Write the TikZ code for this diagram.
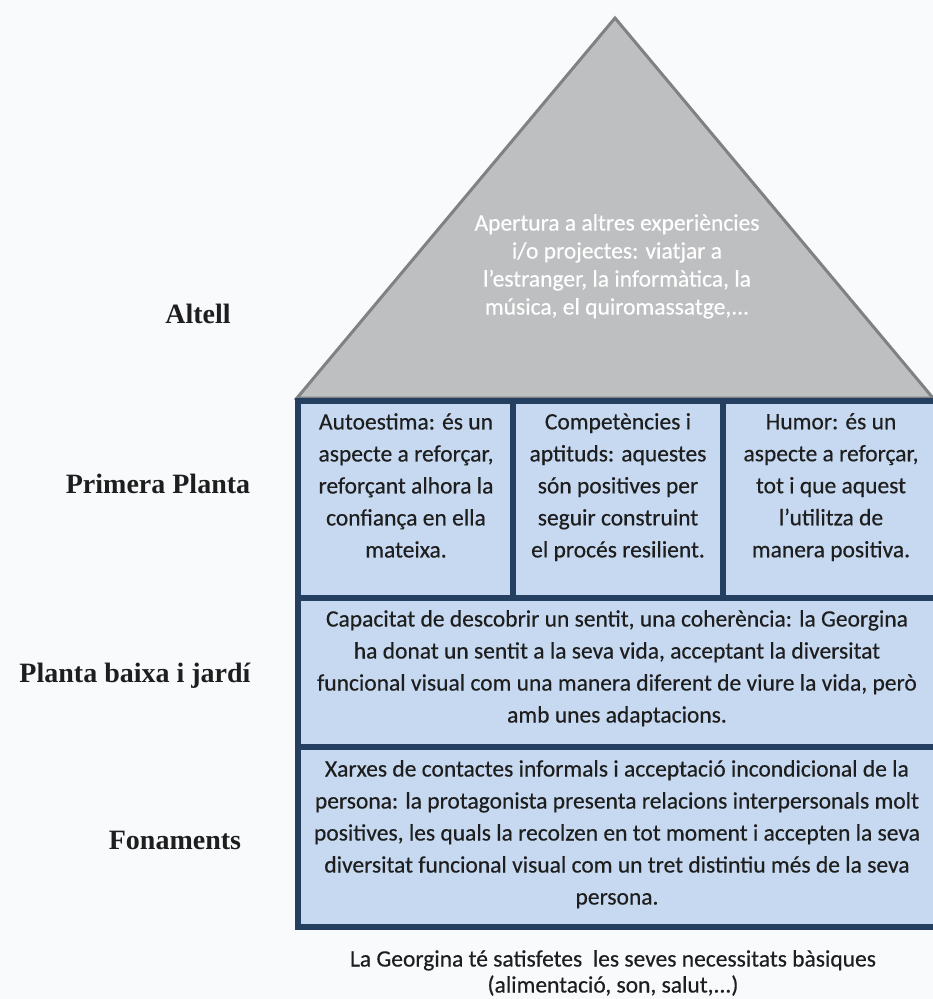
\documentclass[tikz,border=0pt]{standalone}
\usepackage{fontspec}
\setmainfont{Carlito}
\newfontfamily\bodyfont{Carlito}[FakeBold=0.4]
\newfontfamily\labelfont{Liberation Serif}
\definecolor{navy}{HTML}{243F60}
\definecolor{cellblue}{HTML}{C6D9F1}
\definecolor{roofgray}{HTML}{BDBFC1}
\definecolor{roofedge}{HTML}{7F8183}
\definecolor{bgcol}{HTML}{F8FAFC}
\definecolor{txt}{HTML}{1E1E1E}
\tikzset{
  roof/.style={fill=roofgray, draw=roofedge, line width=3pt, line join=miter},
  cellbox/.style={fill=cellblue, draw=navy, line width=6pt},
  body/.style={font=\bodyfont\fontsize{23.5}{32}\selectfont, align=center, inner sep=0pt, anchor=north, text=txt},
  rooftext/.style={font=\bodyfont\fontsize{23.5}{28}\selectfont, align=center, inner sep=0pt, anchor=north, text=white},
  foot/.style={font=\bodyfont\fontsize{23.5}{26}\selectfont, align=center, inner sep=0pt, anchor=north, text=txt},
  lbl/.style={font=\labelfont\bfseries\fontsize{28}{32}\selectfont, inner sep=0pt, text=txt}
}
\begin{document}
\begin{tikzpicture}[x=1pt,y=-1pt]
\path[fill=bgcol] (0,0) rectangle (933,999);
\useasboundingbox (0,0) rectangle (933,999);
\begin{scope}
\clip (0,0) rectangle (933,999);
% roof
\coordinate (rl) at (297,398);
\coordinate (rt) at (615,18);
\coordinate (rr) at (933,398);
\draw[roof] (rl) -- (rt) -- (rr) -- cycle;
% cells
\draw[cellbox] (298,401) rectangle (513,598);
\draw[cellbox] (513,401) rectangle (723,598);
\draw[cellbox] (723,401) rectangle (940,598);
\draw[cellbox] (298,598) rectangle (940,747);
\draw[cellbox] (298,747) rectangle (940,927);
\end{scope}
% roof text
\node[rooftext] (tr) at (617,214) {Apertura a altres experiències\\i/o projectes: viatjar a\\l’estranger, la informàtica, la\\música, el quiromassatge,...};
% first floor
\node[body] (c1) at (406,413) {Autoestima: és un\\aspecte a reforçar,\\reforçant alhora la\\confiança en ella\\mateixa.};
\node[body] (c2) at (618,413) {Competències i\\aptituds: aquestes\\són positives per\\seguir construint\\el procés resilient.};
\node[body] (c3) at (831,413) {Humor: és un\\aspecte a reforçar,\\tot i que aquest\\l’utilitza de\\manera positiva.};
% ground floor
\node[body] (pb) at (617,610) {Capacitat de descobrir un sentit, una coherència: la Georgina\\ha donat un sentit a la seva vida, acceptant la diversitat\\funcional visual com una manera diferent de viure la vida, però\\amb unes adaptacions.};
% foundations
\node[body] (fo) at (617,760) {Xarxes de contactes informals i acceptació incondicional de la\\persona: la protagonista presenta relacions interpersonals molt\\positives, les quals la recolzen en tot moment i accepten la seva\\diversitat funcional visual com un tret distintiu més de la seva\\persona.};
% footer
\node[foot] (ft) at (613,950) {La Georgina té satisfetes\ \ les seves necessitats bàsiques\\(alimentació, son, salut,...)};
% labels
\node[lbl] (l1) at (198,314) {Altell};
\node[lbl] (l2) at (158,484) {Primera Planta};
\node[lbl] (l3) at (135,676) {Planta baixa i jardí};
\node[lbl] (l4) at (175,840) {Fonaments};
\end{tikzpicture}
\end{document}
